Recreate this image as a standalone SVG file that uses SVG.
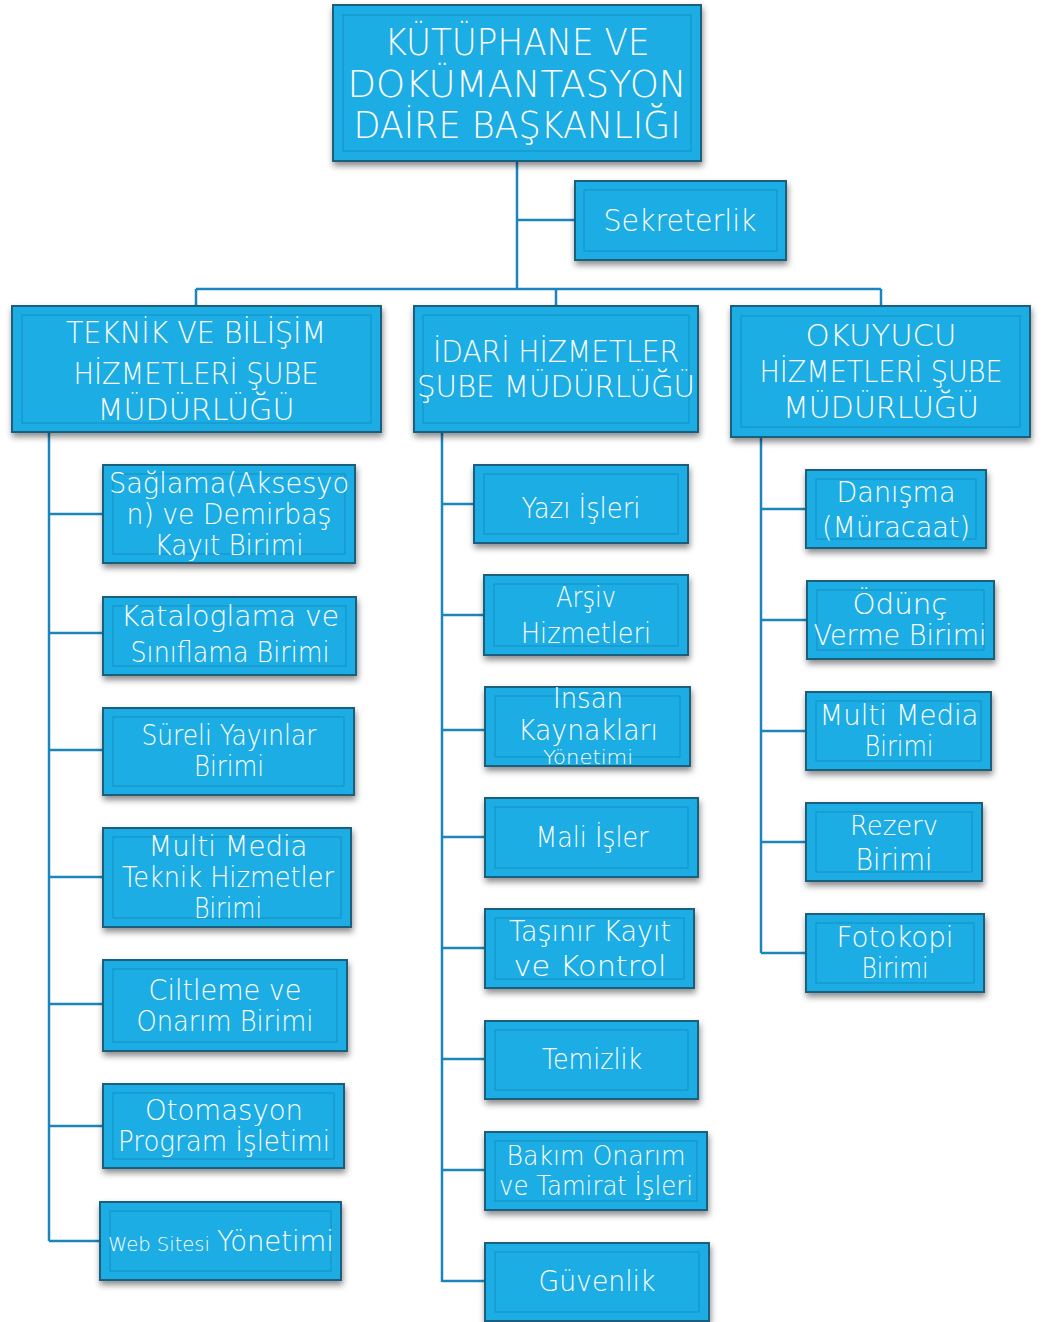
<svg xmlns="http://www.w3.org/2000/svg" width="1043" height="1322" viewBox="0 0 1043 1322">
<defs>
<filter id="sh" x="-10%" y="-10%" width="125%" height="135%">
<feDropShadow dx="1" dy="4" stdDeviation="3" flood-color="#000" flood-opacity="0.45"/>
</filter>
</defs>
<style>
.box{fill:#1badE4;stroke:#1f5f7c;stroke-width:2;filter:url(#sh)}
.inner{fill:none;stroke:#168fc2;stroke-width:1}
text{font-family:"DejaVu Sans","Liberation Sans",sans-serif;font-weight:200;fill:#fff;text-anchor:middle}
.c{fill:none;stroke:#1b86bd;stroke-width:2.5}
</style>
<rect width="1043" height="1322" fill="#fff"/>
<g id="connectors">
<path class="c" d="M517 161V289M517 220H575M196 289H881M196 289V306M556 289V306M881 289V306"/>
<path class="c" d="M49 432V1241M49 514H103M49 633H103M49 750H103M49 877H103M49 1004H103M49 1126H103M49 1241H100"/>
<path class="c" d="M442 432V1282M442 504H474M442 615H484M442 730H485M442 837H485M442 948H485M442 1059H485M442 1170H485M442 1281H485"/>
<path class="c" d="M761 437V953M761 509H806M761 620H807M761 731H806M761 842H806M761 953H806"/>
</g>
<g id="n-root"><rect class="box" x="333" y="5" width="368" height="156"/><rect class="inner" x="343" y="15" width="348" height="136"/>
<text font-size="37"><tspan x="517" y="55" textLength="265" lengthAdjust="spacingAndGlyphs">KÜTÜPHANE VE</tspan><tspan x="517" y="97" textLength="339" lengthAdjust="spacingAndGlyphs">DOKÜMANTASYON</tspan><tspan x="517" y="138" textLength="327" lengthAdjust="spacingAndGlyphs">DAİRE BAŞKANLIĞI</tspan></text></g>
<g id="n-sekreterlik"><rect class="box" x="575" y="181" width="211" height="79"/><rect class="inner" x="584" y="190" width="193" height="61"/>
<text font-size="30" x="680" y="231" textLength="153" lengthAdjust="spacingAndGlyphs">Sekreterlik</text></g>
<g id="n-teknik"><rect class="box" x="12" y="306" width="369" height="126"/><rect class="inner" x="22" y="315" width="349" height="108"/>
<text font-size="31"><tspan x="196" y="343" textLength="260" lengthAdjust="spacingAndGlyphs">TEKNİK VE BİLİŞİM</tspan><tspan x="196" y="384" textLength="245" lengthAdjust="spacingAndGlyphs">HİZMETLERİ ŞUBE</tspan><tspan x="196" y="420" textLength="197" lengthAdjust="spacingAndGlyphs">MÜDÜRLÜĞÜ</tspan></text></g>
<g id="n-idari"><rect class="box" x="414" y="306" width="284" height="126"/><rect class="inner" x="423" y="315" width="266" height="108"/>
<text font-size="31"><tspan x="556" y="362" textLength="246" lengthAdjust="spacingAndGlyphs">İDARİ HİZMETLER</tspan><tspan x="556" y="397" textLength="278" lengthAdjust="spacingAndGlyphs">ŞUBE MÜDÜRLÜĞÜ</tspan></text></g>
<g id="n-okuyucu"><rect class="box" x="731" y="306" width="299" height="131"/><rect class="inner" x="741" y="316" width="279" height="111"/>
<text font-size="31"><tspan x="881" y="346" textLength="151" lengthAdjust="spacingAndGlyphs">OKUYUCU</tspan><tspan x="881" y="382" textLength="243" lengthAdjust="spacingAndGlyphs">HİZMETLERİ ŞUBE</tspan><tspan x="881" y="418" textLength="196" lengthAdjust="spacingAndGlyphs">MÜDÜRLÜĞÜ</tspan></text></g>

<g id="n-saglama"><rect class="box" x="103" y="465" width="252" height="98"/><rect class="inner" x="113" y="474" width="232" height="80"/>
<text font-size="28"><tspan x="229" y="493" textLength="240" lengthAdjust="spacingAndGlyphs">Sağlama(Aksesyo</tspan><tspan x="229" y="524" textLength="205" lengthAdjust="spacingAndGlyphs">n) ve Demirbaş</tspan><tspan x="229" y="555" textLength="149" lengthAdjust="spacingAndGlyphs">Kayıt  Birimi</tspan></text></g>
<g id="n-kataloglama"><rect class="box" x="103" y="597" width="253" height="78"/><rect class="inner" x="113" y="606" width="233" height="60"/>
<text font-size="28"><tspan x="230" y="626" textLength="218" lengthAdjust="spacingAndGlyphs">Kataloglama ve</tspan><tspan x="230" y="662" textLength="199" lengthAdjust="spacingAndGlyphs">Sınıflama Birimi</tspan></text></g>
<g id="n-sureli"><rect class="box" x="103" y="708" width="251" height="87"/><rect class="inner" x="113" y="717" width="231" height="69"/>
<text font-size="28"><tspan x="229" y="745" textLength="175" lengthAdjust="spacingAndGlyphs">Süreli Yayınlar</tspan><tspan x="229" y="776" textLength="70" lengthAdjust="spacingAndGlyphs">Birimi</tspan></text></g>
<g id="n-multimedia-teknik"><rect class="box" x="103" y="828" width="248" height="99"/><rect class="inner" x="113" y="837" width="228" height="81"/>
<text font-size="28"><tspan x="228" y="856" textLength="159" lengthAdjust="spacingAndGlyphs">Multi Media</tspan><tspan x="228" y="887" textLength="212" lengthAdjust="spacingAndGlyphs">Teknik Hizmetler</tspan><tspan x="228" y="918" textLength="68" lengthAdjust="spacingAndGlyphs">Birimi</tspan></text></g>
<g id="n-ciltleme"><rect class="box" x="103" y="960" width="244" height="91"/><rect class="inner" x="113" y="969" width="224" height="73"/>
<text font-size="28"><tspan x="225" y="1000" textLength="153" lengthAdjust="spacingAndGlyphs">Ciltleme ve</tspan><tspan x="225" y="1031" textLength="177" lengthAdjust="spacingAndGlyphs">Onarım Birimi</tspan></text></g>
<g id="n-otomasyon"><rect class="box" x="103" y="1084" width="241" height="84"/><rect class="inner" x="113" y="1093" width="221" height="66"/>
<text font-size="28"><tspan x="224" y="1120" textLength="158" lengthAdjust="spacingAndGlyphs">Otomasyon</tspan><tspan x="224" y="1151" textLength="212" lengthAdjust="spacingAndGlyphs">Program İşletimi</tspan></text></g>
<g id="n-web"><rect class="box" x="100" y="1202" width="241" height="78"/><rect class="inner" x="110" y="1211" width="221" height="60"/>
<text style="text-anchor:start"><tspan x="108" y="1251" font-size="20" textLength="102" lengthAdjust="spacingAndGlyphs">Web Sitesi</tspan><tspan x="217" y="1251" font-size="29" textLength="117" lengthAdjust="spacingAndGlyphs">Yönetimi</tspan></text></g>

<g id="n-yazi"><rect class="box" x="474" y="465" width="214" height="78"/><rect class="inner" x="484" y="474" width="194" height="60"/>
<text font-size="29" x="581" y="518" textLength="119" lengthAdjust="spacingAndGlyphs">Yazı  İşleri</text></g>
<g id="n-arsiv"><rect class="box" x="484" y="575" width="204" height="80"/><rect class="inner" x="494" y="584" width="184" height="62"/>
<text font-size="28"><tspan x="586" y="607" textLength="60" lengthAdjust="spacingAndGlyphs">Arşiv</tspan><tspan x="586" y="643" textLength="130" lengthAdjust="spacingAndGlyphs">Hizmetleri</tspan></text></g>
<g id="n-insan"><rect class="box" x="485" y="687" width="205" height="79"/><rect class="inner" x="495" y="696" width="185" height="61"/>
<text><tspan x="588" y="708" font-size="28" textLength="70" lengthAdjust="spacingAndGlyphs">İnsan</tspan><tspan x="588" y="740" font-size="28" textLength="140" lengthAdjust="spacingAndGlyphs">Kaynakları</tspan><tspan x="588" y="764" font-size="20" textLength="90" lengthAdjust="spacingAndGlyphs">Yönetimi</tspan></text></g>
<g id="n-mali"><rect class="box" x="485" y="798" width="213" height="79"/><rect class="inner" x="495" y="807" width="193" height="61"/>
<text font-size="29" x="592" y="847" textLength="113" lengthAdjust="spacingAndGlyphs">Mali İşler</text></g>
<g id="n-tasinir"><rect class="box" x="485" y="909" width="209" height="79"/><rect class="inner" x="495" y="918" width="189" height="61"/>
<text font-size="29"><tspan x="590" y="941" textLength="162" lengthAdjust="spacingAndGlyphs">Taşınır Kayıt</tspan><tspan x="590" y="976" textLength="153" lengthAdjust="spacingAndGlyphs">ve Kontrol</tspan></text></g>
<g id="n-temizlik"><rect class="box" x="485" y="1021" width="213" height="78"/><rect class="inner" x="495" y="1030" width="193" height="60"/>
<text font-size="29" x="592" y="1069" textLength="100" lengthAdjust="spacingAndGlyphs">Temizlik</text></g>
<g id="n-bakim"><rect class="box" x="485" y="1132" width="222" height="78"/><rect class="inner" x="495" y="1141" width="202" height="60"/>
<text font-size="26"><tspan x="596" y="1165" textLength="179" lengthAdjust="spacingAndGlyphs">Bakım Onarım</tspan><tspan x="596" y="1195" textLength="194" lengthAdjust="spacingAndGlyphs">ve Tamirat İşleri</tspan></text></g>
<g id="n-guvenlik"><rect class="box" x="485" y="1243" width="224" height="78"/><rect class="inner" x="495" y="1252" width="204" height="60"/>
<text font-size="29" x="597" y="1291" textLength="117" lengthAdjust="spacingAndGlyphs">Güvenlik</text></g>

<g id="n-danisma"><rect class="box" x="806" y="470" width="180" height="78"/><rect class="inner" x="816" y="479" width="160" height="60"/>
<text font-size="28"><tspan x="896" y="502" textLength="119" lengthAdjust="spacingAndGlyphs">Danışma</tspan><tspan x="896" y="537" textLength="148" lengthAdjust="spacingAndGlyphs">(Müracaat)</tspan></text></g>
<g id="n-odunc"><rect class="box" x="807" y="581" width="187" height="78"/><rect class="inner" x="817" y="590" width="167" height="60"/>
<text font-size="28"><tspan x="900" y="614" textLength="95" lengthAdjust="spacingAndGlyphs">Ödünç</tspan><tspan x="900" y="645" textLength="173" lengthAdjust="spacingAndGlyphs">Verme Birimi</tspan></text></g>
<g id="n-multimedia"><rect class="box" x="806" y="692" width="185" height="78"/><rect class="inner" x="816" y="701" width="165" height="60"/>
<text font-size="28"><tspan x="899" y="725" textLength="159" lengthAdjust="spacingAndGlyphs">Multi Media</tspan><tspan x="899" y="756" textLength="69" lengthAdjust="spacingAndGlyphs">Birimi</tspan></text></g>
<g id="n-rezerv"><rect class="box" x="806" y="803" width="176" height="78"/><rect class="inner" x="816" y="812" width="156" height="60"/>
<text><tspan x="894" y="835" font-size="27" textLength="88" lengthAdjust="spacingAndGlyphs">Rezerv</tspan><tspan x="894" y="870" font-size="31" textLength="77" lengthAdjust="spacingAndGlyphs">Birimi</tspan></text></g>
<g id="n-fotokopi"><rect class="box" x="806" y="914" width="178" height="78"/><rect class="inner" x="816" y="923" width="158" height="60"/>
<text font-size="28"><tspan x="895" y="947" textLength="117" lengthAdjust="spacingAndGlyphs">Fotokopi</tspan><tspan x="895" y="978" textLength="67" lengthAdjust="spacingAndGlyphs">Birimi</tspan></text></g>
</svg>
